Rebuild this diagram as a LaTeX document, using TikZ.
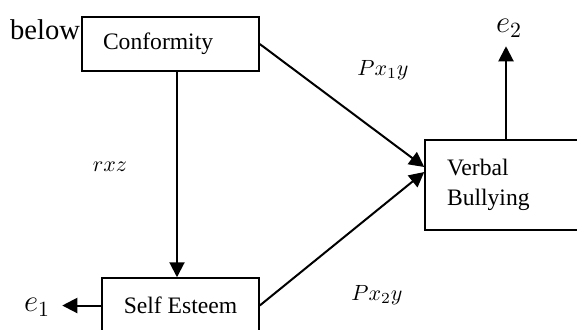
\RequirePackage{fix-cm}
\documentclass[tikz,border=0pt]{standalone}
\usepackage{fontspec}
\setmainfont{Liberation Serif}
\usetikzlibrary{arrows.meta,calc}

\newlength{\du}
\setlength{\du}{0.5pt}
\definecolor{dialinecolor}{rgb}{0.000000, 0.000000, 0.000000}
\tikzset{
  pathbox/.style={draw=dialinecolor, line width=1.5\du, rectangle, inner sep=0pt,
    font=\fontsize{11.8}{15}\selectfont},
  patharrow/.style={draw=dialinecolor, line width=2\du,
    -{Triangle[length=7.5pt,width=7.5pt]}},
  pathlabel/.style={font=\fontsize{11}{13}\selectfont},
  errlabel/.style={font=\fontsize{15.5}{18}\selectfont},
}

\begin{document}
\begin{tikzpicture}
\pgftransformxscale{1.000000}
\pgftransformyscale{-1.000000}
\useasboundingbox (0\du,0\du) rectangle (577\du,329\du);
% setfont left to latex
\node[font=\fontsize{14.3}{16}\selectfont] (below) at (45\du,30\du){below};
% boxes
\node[pathbox, minimum width=177\du, minimum height=54\du, text width=135\du, align=left] (conf) at (170.5\du,44\du){Conformity};
\node[pathbox, minimum width=157\du, minimum height=55\du] (self) at (180.5\du,305.5\du){Self Esteem};
\node[pathbox, minimum width=162\du, minimum height=90\du, text width=118\du, align=left] (verb) at (506\du,185\du){Verbal\\Bullying};
% error terms
\node[errlabel] (eone) at (37\du,307\du){$e_1$};
\node[errlabel] (etwo) at (509\du,28\du){$e_2$};
% path labels
\node[pathlabel] (rxz) at (110\du,167\du){$rxz$};
\node[pathlabel] (pone) at (383\du,70\du){$Px_1y$};
\node[pathlabel] (ptwo) at (377\du,295\du){$Px_2y$};
% connectors
\coordinate (rline) at (177\du,0\du);
\draw[patharrow] (conf.south -| rline)--(self.north -| rline);
\draw[patharrow] (conf.east)--($(verb.west)+(0,-18\du)$);
\draw[patharrow] (self.east)--($(verb.west)+(0,-13\du)$);
\draw[patharrow] (verb.north)--($(verb.north)+(0,-93\du)$);
\draw[patharrow] (self.west)--($(self.west)+(-39\du,0)$);
\end{tikzpicture}
\end{document}
